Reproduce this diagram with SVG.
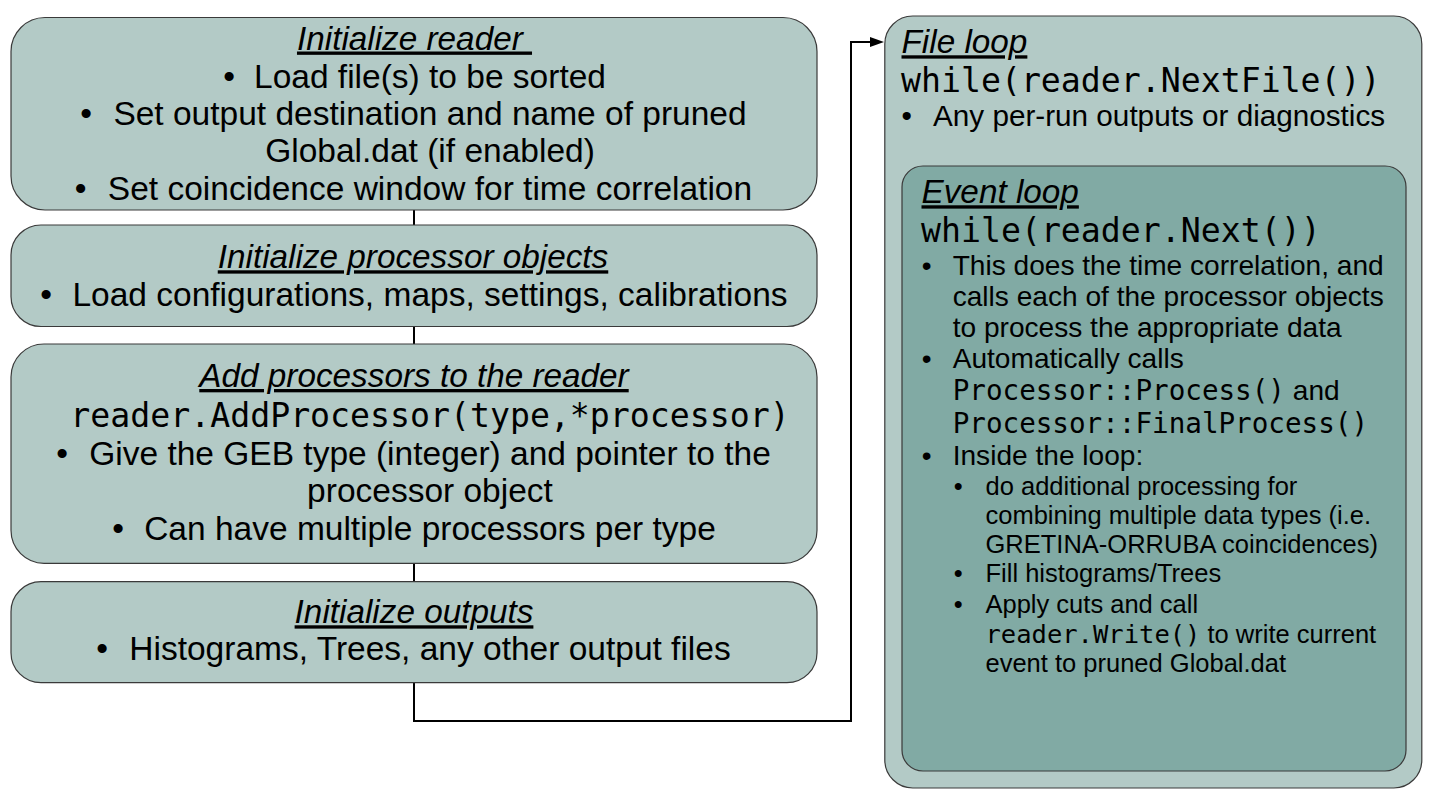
<svg xmlns="http://www.w3.org/2000/svg" width="1441" height="806" viewBox="0 0 1441 806">
<style>
.lt{fill:#b3cac6;stroke:#3a3a3a;stroke-width:1.2}
.dk{fill:#81aaa4;stroke:#3a3a3a;stroke-width:1.2}
text{font-family:"Liberation Sans",Arial,sans-serif;fill:#000}
.h{font-style:italic;text-decoration:underline;font-size:33.3px}
.b{font-size:33.5px}
.c{text-anchor:middle}
.m{font-family:"DejaVu Sans Mono",monospace}
.f{font-size:29.7px}
.e{font-size:28.1px}
.s{font-size:25.5px}
.conn{fill:none;stroke:#000;stroke-width:2}
</style>
<defs>
<marker id="arr" markerUnits="userSpaceOnUse" markerWidth="16" markerHeight="12" refX="2" refY="5" orient="auto">
<path d="M0,0 L14,5 L0,10 z" fill="#000"/>
</marker>
</defs>

<g id="connectors">
<path class="conn" d="M414,210 V225"/>
<path class="conn" d="M414,326.5 V344"/>
<path class="conn" d="M414,563.3 V581.7"/>
<path class="conn" d="M414,682.7 V721 H851 V42 H872" marker-end="url(#arr)"/>
</g>

<g id="init-reader">
<rect class="lt" x="11" y="17.5" width="806" height="192.5" rx="34" ry="34"/>
<text class="h c" x="414.5" y="49.5" xml:space="preserve">Initialize reader </text>
<text class="b c" x="229" y="88">•</text>
<text class="b c" x="430" y="88">Load file(s) to be sorted</text>
<text class="b c" x="86" y="124.5">•</text>
<text class="b c" x="430" y="124.5">Set output destination and name of pruned</text>
<text class="b c" x="430" y="162">Global.dat (if enabled)</text>
<text class="b c" x="80.5" y="200">•</text>
<text class="b c" x="430" y="200">Set coincidence window for time correlation</text>
</g>

<g id="init-processors">
<rect class="lt" x="11" y="225" width="806" height="101.5" rx="30" ry="30"/>
<text class="h c" x="413" y="268.3">Initialize processor objects</text>
<text class="b c" x="46" y="306">•</text>
<text class="b c" x="430" y="306">Load configurations, maps, settings, calibrations</text>
</g>

<g id="add-processors">
<rect class="lt" x="11" y="344" width="806" height="219.3" rx="33" ry="33"/>
<text class="h c" x="414" y="387">Add processors to the reader</text>
<text class="m c" x="430" y="426.5" style="font-size:33.2px">reader.AddProcessor(type,*processor)</text>
<text class="b c" x="62" y="464.5">•</text>
<text class="b c" x="430" y="464.5">Give the GEB type (integer) and pointer to the</text>
<text class="b c" x="430" y="501.5">processor object</text>
<text class="b c" x="118" y="540">•</text>
<text class="b c" x="430" y="540">Can have multiple processors per type</text>
</g>

<g id="init-outputs">
<rect class="lt" x="11" y="581.7" width="806" height="101" rx="30" ry="30"/>
<text class="h c" x="414" y="623.3">Initialize outputs</text>
<text class="b c" x="102" y="660">•</text>
<text class="b c" x="430" y="660">Histograms, Trees, any other output files</text>
</g>

<g id="file-loop">
<rect class="lt" x="884.8" y="16" width="537" height="772" rx="28" ry="28"/>
<text class="h" x="901.5" y="53.3">File loop</text>
<text class="m" x="901" y="91.5" style="font-size:33.2px">while(reader.NextFile())</text>
<text class="f c" x="906.7" y="125.5">•</text>
<text class="f" x="933" y="125.5">Any per-run outputs or diagnostics</text>
</g>

<g id="event-loop">
<rect class="dk" x="902" y="166" width="504" height="605" rx="21" ry="21"/>
<text class="h" x="921.5" y="203.3">Event loop</text>
<text class="m" x="921" y="241.7" style="font-size:33.2px">while(reader.Next())</text>
<text class="e c" x="926.7" y="275">•</text>
<text class="e" x="952.7" y="275">This does the time correlation, and</text>
<text class="e" x="952.7" y="306">calls each of the processor objects</text>
<text class="e" x="952.7" y="336.5">to process the appropriate data</text>
<text class="e c" x="926.7" y="368.3">•</text>
<text class="e" x="952.7" y="368.3">Automatically calls</text>
<text class="e" x="952.7" y="400"><tspan class="m" style="font-size:27.6px">Processor::Process()</tspan> and</text>
<text class="m" x="952.7" y="432.7" style="font-size:27.6px">Processor::FinalProcess()</text>
<text class="e c" x="926.7" y="465">•</text>
<text class="e" x="952.7" y="465">Inside the loop:</text>
<text class="s c" x="958.3" y="495">•</text>
<text class="s" x="985.5" y="495">do additional processing for</text>
<text class="s" x="985.5" y="524">combining multiple data types (i.e.</text>
<text class="s" x="985.5" y="553.3">GRETINA-ORRUBA coincidences)</text>
<text class="s c" x="958.3" y="582">•</text>
<text class="s" x="985.5" y="582">Fill histograms/Trees</text>
<text class="s c" x="958.3" y="612.7">•</text>
<text class="s" x="985.5" y="612.7">Apply cuts and call</text>
<text class="s" x="985.5" y="642.7"><tspan class="m">reader.Write()</tspan> to write current</text>
<text class="s" x="985.5" y="671.7">event to pruned Global.dat</text>
</g>
</svg>
